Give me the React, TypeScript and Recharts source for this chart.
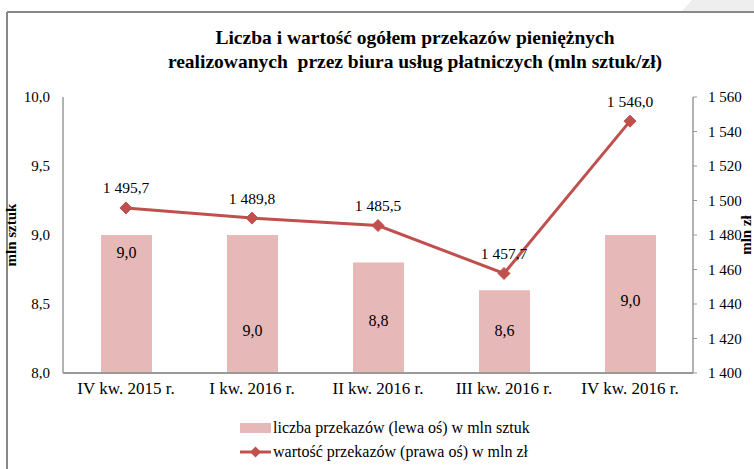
import React from "react";
import { ComposedChart, Bar, Line, XAxis, YAxis, LabelList } from "recharts";

const categories = ["IV kw. 2015 r.", "I kw. 2016 r.", "II kw. 2016 r.", "III kw. 2016 r.", "IV kw. 2016 r."];
const liczba = [9.0, 9.0, 8.8, 8.6, 9.0];
const wartosc = [1495.7, 1489.8, 1485.5, 1457.7, 1546.0];
const leftTicks = [8, 8.5, 9, 9.5, 10];
const rightTicks = [1400, 1420, 1440, 1460, 1480, 1500, 1520, 1540, 1560];
// vertical offset of each bar label from the bar top (style only)
const barLabelOffsets = [17, 95, 58, 40, 65];

const data = categories.map((c, i) => ({ name: c, liczba: liczba[i], wartosc: wartosc[i] }));

const FONT = "'Liberation Serif', 'Times New Roman', serif";
const BAR = "#E6B9B8";
const LINE = "#C0504D";

const fmtLeft = (v: number) => v.toFixed(1).replace(".", ",");
const fmtRight = (v: number) => {
  const s = Math.round(v).toString();
  return s.length > 3 ? s.slice(0, s.length - 3) + " " + s.slice(s.length - 3) : s;
};
const fmtVal = (v: number) => {
  const [a, b] = v.toFixed(1).split(".");
  return fmtRight(Number(a)) + "," + b;
};

const Diamond = (props: any) => {
  const { cx, cy } = props;
  if (cx == null || cy == null) return null;
  const r = 6;
  return (
    <polygon
      points={`${cx},${cy - r} ${cx + r},${cy} ${cx},${cy + r} ${cx - r},${cy}`}
      fill={LINE}
      stroke={LINE}
    />
  );
};

const BarLabel = (props: any) => {
  const { x, y, width, value, index } = props;
  return (
    <text
      x={x + width / 2}
      y={y + barLabelOffsets[index]}
      textAnchor="middle"
      dominantBaseline="central"
      fontFamily={FONT}
      fontSize={16}
      fill="#000"
    >
      {fmtLeft(value)}
    </text>
  );
};

const LineLabel = (props: any) => {
  const { x, y, value } = props;
  return (
    <text
      x={x}
      y={y - 20}
      textAnchor="middle"
      dominantBaseline="central"
      fontFamily={FONT}
      fontSize={15.5}
      fill="#000"
    >
      {fmtVal(value)}
    </text>
  );
};

export default function App() {
  return (
    <div style={{ position: "absolute", left: 0, top: 0, width: 754, height: 469, background: "#fff", overflow: "hidden", fontFamily: FONT }}>
      <svg width={754} height={469} style={{ position: "absolute", left: 0, top: 0 }}>
        <polygon points="692,0 754,0 754,11 682,11" fill="#eeeeee" />
        <line x1={7} y1={12} x2={754} y2={12} stroke="#888" strokeWidth={2} />
        <line x1={7} y1={12} x2={7} y2={469} stroke="#888" strokeWidth={2} />
      </svg>
      <div style={{ position: "absolute", left: 65, width: 700, top: 26, textAlign: "center", fontWeight: "bold", fontSize: 19.5, lineHeight: "24px", color: "#000", fontFamily: FONT }}>
        Liczba i wartość ogółem przekazów pieniężnych
        <br />
        realizowanych&nbsp; przez biura usług płatniczych (mln sztuk/zł)
      </div>
      <div style={{ position: "absolute", left: 0, top: 0 }}>
        <ComposedChart width={754} height={469} data={data} margin={{ top: 97, right: 0, left: 0, bottom: 0 }}>
          <XAxis
            dataKey="name"
            height={96}
            axisLine={{ stroke: "#999", strokeWidth: 2 }}
            tickLine={false}
            tickSize={0}
            tickMargin={9}
            tick={{ fontFamily: FONT, fontSize: 17, fill: "#000" }}
            interval={0}
          />
          <YAxis
            yAxisId="left"
            orientation="left"
            width={63}
            domain={[8, 10]}
            ticks={leftTicks}
            tickFormatter={fmtLeft}
            axisLine={{ stroke: "#999", strokeWidth: 1.5 }}
            tickLine={false}
            tickSize={0}
            tickMargin={13}
            tick={{ fontFamily: FONT, fontSize: 15, fill: "#000" }}
            label={{ value: "mln sztuk", angle: -90, position: "insideLeft", offset: 11, style: { fontFamily: FONT, fontSize: 15, fontWeight: "bold", fill: "#000", textAnchor: "middle" } }}
          />
          <YAxis
            yAxisId="right"
            orientation="right"
            width={61}
            domain={[1400, 1560]}
            ticks={rightTicks}
            tickFormatter={fmtRight}
            axisLine={{ stroke: "#999", strokeWidth: 1.5 }}
            tickLine={{ stroke: "#999" }}
            tickSize={4}
            tickMargin={11}
            tick={{ fontFamily: FONT, fontSize: 15, fill: "#000" }}
            label={{ value: "mln zł", angle: -90, position: "insideRight", offset: 8, style: { fontFamily: FONT, fontSize: 15, fontWeight: "bold", fill: "#000", textAnchor: "middle" } }}
          />
          <Bar yAxisId="left" dataKey="liczba" fill={BAR} barSize={51} isAnimationActive={false}>
            <LabelList dataKey="liczba" content={BarLabel} />
          </Bar>
          <Line
            yAxisId="right"
            dataKey="wartosc"
            stroke={LINE}
            strokeWidth={3}
            dot={<Diamond />}
            activeDot={false}
            isAnimationActive={false}
          >
            <LabelList dataKey="wartosc" content={LineLabel} />
          </Line>
        </ComposedChart>
      </div>
      <div style={{ position: "absolute", left: 240, top: 416, fontSize: 16, color: "#000", lineHeight: "24px", fontFamily: FONT }}>
        <div style={{ display: "flex", alignItems: "center", height: 24 }}>
          <span style={{ display: "inline-block", width: 31, height: 10, background: BAR, marginRight: 2 }} />
          <span>liczba przekazów (lewa oś) w mln sztuk</span>
        </div>
        <div style={{ display: "flex", alignItems: "center", height: 24 }}>
          <svg width={31} height={14} style={{ marginRight: 2 }}>
            <line x1={0} y1={7} x2={31} y2={7} stroke={LINE} strokeWidth={3} />
            <polygon points="15.5,1.5 21,7 15.5,12.5 10,7" fill={LINE} />
          </svg>
          <span>wartość przekazów (prawa oś) w mln zł</span>
        </div>
      </div>
    </div>
  );
}
